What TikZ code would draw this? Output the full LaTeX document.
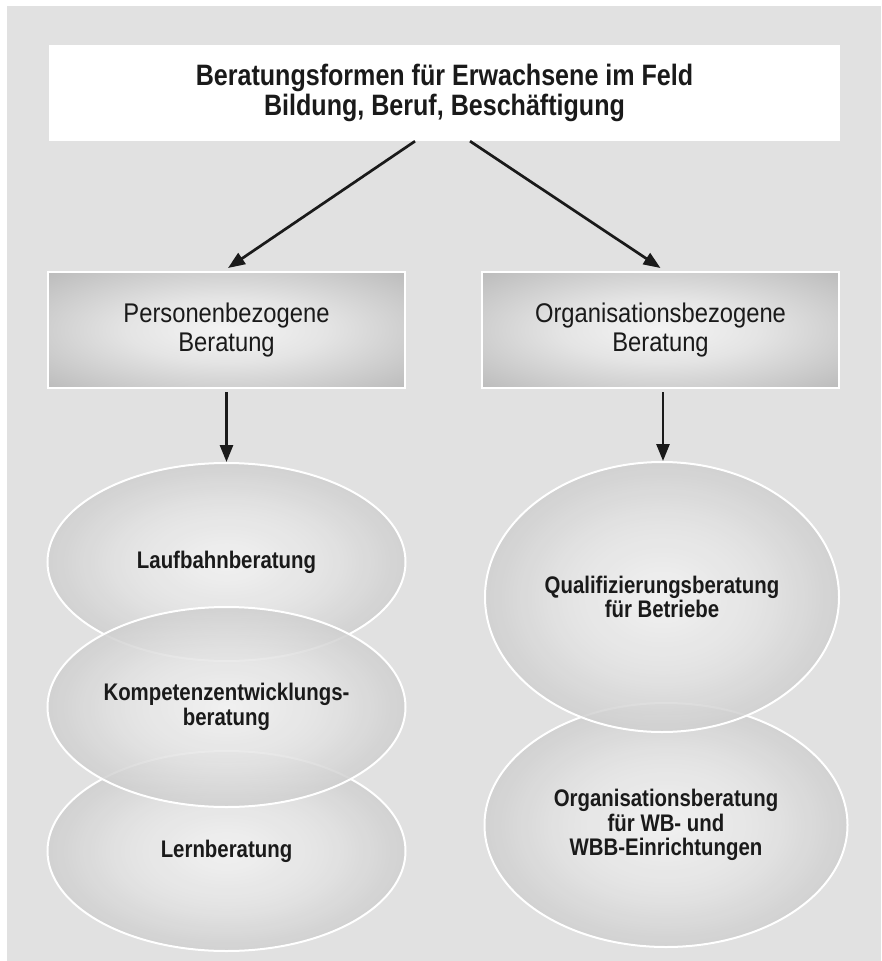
\documentclass[tikz,border=0pt]{standalone}
\usepackage{fontspec}
\usetikzlibrary{shapes.geometric,arrows.meta,calc}
\newfontfamily\cond[FakeStretch=0.85]{Liberation Sans}
\newfontfamily\condlight[FakeStretch=0.88]{Liberation Sans}
\definecolor{pagegray}{HTML}{E1E1E1}
\definecolor{glowin}{HTML}{F4F4F4}
\definecolor{glowmid}{HTML}{E4E4E4}
\definecolor{glowout}{HTML}{A0A0A0}
\definecolor{inktext}{HTML}{1A1A1A}
\pgfdeclareradialshading{glow}{\pgfpoint{0bp}{0bp}}{%
  color(0bp)=(glowin); color(14bp)=(glowmid); color(50bp)=(glowout); color(72bp)=(glowout)}
\tikzset{
  headbox/.style={draw=none, fill=white, minimum width=791, minimum height=96,
    inner sep=0, align=center, text=inktext, font=\cond\bfseries\fontsize{29.5}{30.5}\selectfont},
  groupbox/.style={draw=white, line width=2, shade, shading=glow, minimum width=357,
    minimum height=116, inner sep=0, align=center, text=inktext,
    font=\condlight\fontsize{27}{28.5}\selectfont},
  oval/.style={ellipse, draw=white, line width=2, shade, shading=glow,
    fill opacity=0.86, draw opacity=1, text opacity=1, inner sep=0, align=center,
    text=inktext, font=\cond\bfseries\fontsize{24}{24.5}\selectfont},
  arr/.style={draw=inktext, line width=2.7, -{Triangle[length=17,width=13]}}
}
\begin{document}
\begin{tikzpicture}[x=1pt,y=-1pt]
  % page and gray panel
  \useasboundingbox (0,0) rectangle (881,961);
  \fill[white] (0,0) rectangle (881,961);
  \fill[pagegray] (7,6) rectangle (881,961);

  % title
  \node[headbox] (title) at (444.5,93) {Beratungsformen für Erwachsene im Feld\\Bildung, Beruf, Beschäftigung};

  % two branches
  \node[groupbox] (pers) at (226.5,330) {Personenbezogene\\Beratung};
  \node[groupbox] (orga) at (660.5,330) {Organisationsbezogene\\Beratung};

  % left column of ovals (middle one on top)
  \node[oval, minimum width=358, minimum height=198] (lauf) at (226.5,562) {Laufbahnberatung};
  \node[oval, minimum width=358, minimum height=200] (lern) at (226.5,851) {Lernberatung};
  \node[oval, minimum width=358, minimum height=200] (komp) at (226.5,707) {Kompetenzentwicklungs-\\beratung};

  % right column of ovals (upper one on top)
  \node[oval, minimum width=363, minimum height=244] (wbb) at (666,825) {Organisationsberatung\\für WB- und\\WBB-Einrichtungen};
  \node[oval, minimum width=354, minimum height=270] (qual) at (662,597) {Qualifizierungsberatung\\für Betriebe};

  % connectors
  \draw[arr] ([xshift=-29.5pt]title.south) -- ([xshift=1.5pt,yshift=3pt]pers.north);
  \draw[arr] ([xshift=25.5pt]title.south) -- ([yshift=3pt]orga.north);
  \draw[arr] ([yshift=-3pt]pers.south) -- (lauf.north);
  \draw[arr] ([xshift=2.5pt,yshift=-3pt]orga.south) -- ([xshift=2.5pt]qual.north -| orga.south);
\end{tikzpicture}
\end{document}
